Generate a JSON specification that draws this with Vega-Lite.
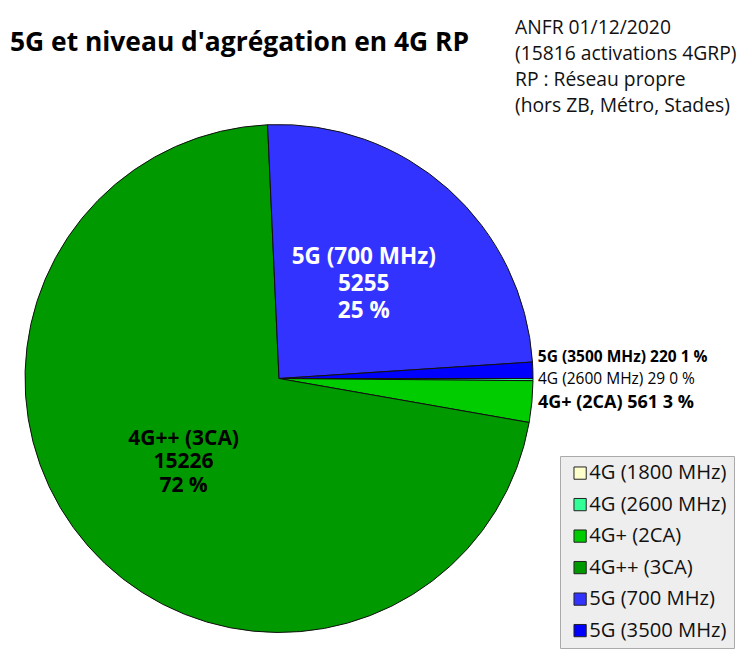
{
  "$schema": "https://vega.github.io/schema/vega-lite/v6.json",
  "width": 508,
  "height": 508,
  "autosize": {"type": "none"},
  "padding": {"left": 25, "top": 124.5, "right": 210, "bottom": 24.5},
  "background": "white",
  "title": {
    "text": "5G et niveau d'agrégation en 4G RP",
    "anchor": "start",
    "frame": "group",
    "font": "Open Sans",
    "fontSize": 26.4,
    "fontWeight": "bold",
    "color": "#000000",
    "baseline": "alphabetic",
    "dx": -15,
    "offset": -57.9
  },
  "data": {
    "values": [
      {"rank": 1, "cat": "4G (1800 MHz)", "n": 0, "pct": 0},
      {"rank": 2, "cat": "4G (2600 MHz)", "n": 29, "pct": 0},
      {"rank": 3, "cat": "4G+ (2CA)", "n": 561, "pct": 3},
      {"rank": 4, "cat": "4G++ (3CA)", "n": 15226, "pct": 72},
      {"rank": 5, "cat": "5G (700 MHz)", "n": 5255, "pct": 25},
      {"rank": 6, "cat": "5G (3500 MHz)", "n": 220, "pct": 1}
    ]
  },
  "layer": [
    {
      "transform": [
        {"calculate": "datum.cat + '\\n' + datum.n + '\\n' + datum.pct + ' %'", "as": "inner"},
        {"calculate": "datum.cat + ' ' + datum.n + ' ' + datum.pct + ' %'", "as": "outer"}
      ],
      "encoding": {
        "theta": {"field": "n", "type": "quantitative", "stack": true, "scale": {"range": [1.5707963, 7.8539816]}},
        "order": {"field": "rank", "type": "quantitative", "sort": "ascending"}
      },
      "layer": [
        {
          "mark": {"type": "arc", "outerRadius": 254, "stroke": "#111111", "strokeWidth": 1},
          "encoding": {
            "color": {
              "field": "cat",
              "type": "nominal",
              "scale": {
                "domain": ["4G (1800 MHz)", "4G (2600 MHz)", "4G+ (2CA)", "4G++ (3CA)", "5G (700 MHz)", "5G (3500 MHz)"],
                "range": ["#FFFFCC", "#33FF99", "#00CC00", "#009900", "#3333FF", "#0000FF"]
              },
              "legend": {
                "orient": "none",
                "legendX": 535,
                "legendY": 331.5,
                "title": null,
                "fillColor": "#EEEEEE",
                "strokeColor": "#AAAAAA",
                "padding": 7,
                "symbolType": "square",
                "symbolSize": 150,
                "symbolStrokeColor": "#222222",
                "symbolStrokeWidth": 1,
                "symbolOffset": 3,
                "labelFont": "Open Sans",
                "labelFontSize": 20.2,
                "labelColor": "#111111",
                "labelOffset": -1,
                "rowPadding": 10.5,
                "labelLimit": 300
              }
            }
          }
        },
        {
          "mark": {"type": "text", "radius": 127, "lineBreak": "\n", "font": "Open Sans", "fontSize": 22.5, "fontWeight": "bold", "lineHeight": 27.3, "align": "center", "baseline": "middle", "dy": -27.3, "color": "#FFFFFF"},
          "encoding": {
            "detail": {"field": "cat"},
            "text": {"condition": {"test": "datum.cat === '5G (700 MHz)'", "field": "inner"}, "value": ""}
          }
        },
        {
          "mark": {"type": "text", "radius": 127, "lineBreak": "\n", "font": "Open Sans", "fontSize": 21, "fontWeight": "bold", "lineHeight": 23.3, "align": "center", "baseline": "middle", "dy": -23.3, "color": "#000000"},
          "encoding": {
            "detail": {"field": "cat"},
            "text": {"condition": {"test": "datum.cat === '4G++ (3CA)'", "field": "inner"}, "value": ""}
          }
        },
        {
          "mark": {"type": "text", "radius": 259, "font": "Open Sans", "fontSize": 15.5, "fontWeight": "bold", "align": "left", "baseline": "middle", "dy": -13, "color": "#000000"},
          "encoding": {
            "detail": {"field": "cat"},
            "text": {"condition": {"test": "datum.cat === '5G (3500 MHz)'", "field": "outer"}, "value": ""}
          }
        },
        {
          "mark": {"type": "text", "radius": 259, "font": "Open Sans", "fontSize": 15.5, "fontWeight": "normal", "align": "left", "baseline": "middle", "dy": -1, "color": "#000000"},
          "encoding": {
            "detail": {"field": "cat"},
            "text": {"condition": {"test": "datum.cat === '4G (2600 MHz)'", "field": "outer"}, "value": ""}
          }
        },
        {
          "mark": {"type": "text", "radius": 259, "font": "Open Sans", "fontSize": 18, "fontWeight": "bold", "align": "left", "baseline": "middle", "dx": 1, "dy": 1, "color": "#000000"},
          "encoding": {
            "detail": {"field": "cat"},
            "text": {"condition": {"test": "datum.cat === '4G+ (2CA)'", "field": "outer"}, "value": ""}
          }
        }
      ]
    },
    {
      "data": {"values": [{"note": "ANFR 01/12/2020"}]},
      "mark": {"type": "text", "text": ["ANFR 01/12/2020", "(15816 activations 4GRP)", "RP : Réseau propre", "(hors ZB, Métro, Stades)"], "font": "Open Sans", "fontSize": 19.3, "lineHeight": 25.8, "align": "left", "baseline": "alphabetic", "color": "#111111"},
      "encoding": {
        "x": {"value": 490},
        "y": {"value": -90.2}
      }
    }
  ],
  "config": {
    "view": {"stroke": null},
    "font": "Open Sans"
  }
}
